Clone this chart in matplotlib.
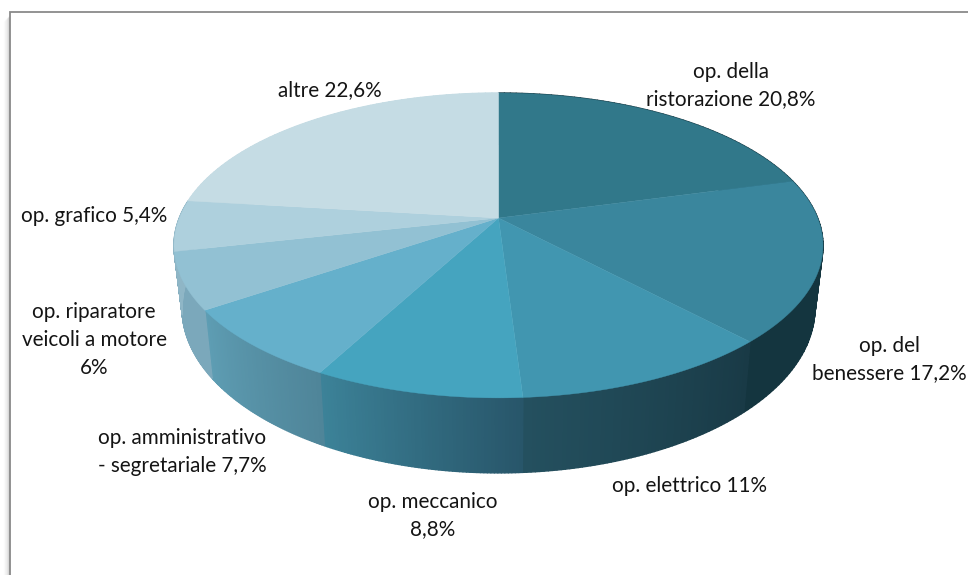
#!/usr/bin/env python3

import numpy as np
import matplotlib
matplotlib.use('Agg')
import matplotlib.pyplot as plt
from matplotlib.collections import PolyCollection
from matplotlib.colors import to_rgb

labels = ['op. della\nristorazione 20,8%', 'op. del\nbenessere 17,2%', 'op. elettrico 11%',
          'op. meccanico\n8,8%', 'op. amministrativo\n- segretariale 7,7%',
          'op. riparatore\nveicoli a motore\n6%', 'op. grafico 5,4%', 'altre 22,6%']
values = [20.8, 17.2, 11, 8.8, 7.7, 6, 5.4, 22.6]

top_colors = ['#31788a', '#3a869d', '#4196b0', '#45a4bf', '#65b0cb', '#92c1d3', '#aed0dd', '#c5dce4']
# wall colours at start and end of each slice (clockwise)
wall_start = ['#14353f', '#14353f', '#193a46', '#28566a', '#4f8599', '#7ba8bb', '#8fb6c6', '#c5dce4']
wall_end = ['#14353f', '#14353f', '#24505f', '#3c8298', '#5e9db3', '#7ba8bb', '#8fb6c6', '#c5dce4']

label_x = [731, 889, 689.5, 433, 182, 94, 94, 330]
label_y = [85.5, 359.5, 486, 515.5, 451.5, 340, 216, 90]

# perspective of the pie: unit circle -> screen pixels
cx, cy = 498.5, 218
k = 0.18
a, b = 319.2, 147.5
base_cy = 278.6
base_sx, base_sy = 0.975, 1.08


def top_xy(theta):
    x, y = np.sin(theta), np.cos(theta)
    w = 1 + k * y
    return cx + a * x / w, cy - b * y / w


def base_xy(theta):
    x, y = np.sin(theta), np.cos(theta)
    w = 1 + k * y
    return cx + base_sx * a * x / w, base_cy - base_sy * b * y / w


fig = plt.figure(figsize=(9.68, 5.75), dpi=100)
ax = fig.add_axes([0, 0, 1, 1])
ax.set_xlim(0, 968)
ax.set_ylim(575, 0)
ax.axis('off')

# chart frame with soft shadow on the left
for i, alpha in enumerate([0.30, 0.2, 0.13, 0.08, 0.05, 0.02]):
    ax.plot([8.5 - i, 8.5 - i], [16 + i, 575], color='#707070', alpha=alpha, lw=1, solid_capstyle='butt')
ax.plot([9.5, 9.5, 968], [575, 11.5, 11.5], color='#8a8a8a', lw=1.3, solid_joinstyle='miter')

# printed percentages add up to 99.5, the last slice closes the circle
edges = np.cumsum([0] + values) / 100 * 2 * np.pi
edges[-1] = 2 * np.pi

# side walls
for i in range(len(values)):
    n = 60
    t = np.linspace(edges[i], edges[i + 1], n + 1)
    xt, yt = top_xy(t)
    xb, yb = base_xy(t)
    polys = []
    cols = []
    c0, c1 = np.array(to_rgb(wall_start[i])), np.array(to_rgb(wall_end[i]))
    for j in range(n):
        polys.append([(xt[j], yt[j]), (xt[j + 1], yt[j + 1]), (xb[j + 1], yb[j + 1]), (xb[j], yb[j])])
        cols.append(c0 + (c1 - c0) * j / (n - 1))
    ax.add_collection(PolyCollection(polys, facecolors=cols, edgecolors=cols, linewidths=1.0, zorder=2))

# top faces
for i in range(len(values)):
    t = np.linspace(edges[i], edges[i + 1], 120)
    xt, yt = top_xy(t)
    ax.fill(np.r_[cx, xt], np.r_[cy, yt], color=top_colors[i], lw=0.3, zorder=3)

for name, x, y in zip(labels, label_x, label_y):
    ax.text(x, y, name, ha='center', va='center', family='Lato', fontsize=14.9,
            color='#141414', linespacing=1.5, zorder=5)

fig.savefig('out.png', dpi=100)
